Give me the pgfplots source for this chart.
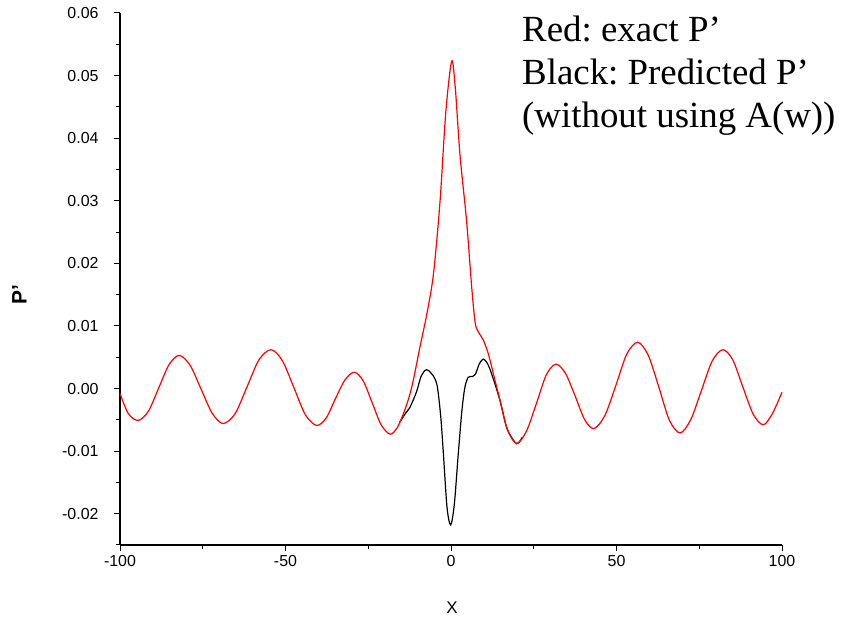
\documentclass[border=0pt]{standalone}
\usepackage{pgfplots}
\pgfplotsset{compat=1.18}
\usepackage{fontspec}
\setmainfont{Liberation Sans}
\newfontfamily\seriffont{Liberation Serif}
\begin{document}
\frenchspacing
\begin{tikzpicture}[x=1bp,y=1bp]
\path (0,0) rectangle (844,628);
\begin{axis}[
  at={(120bp,83bp)}, anchor=south west,
  scale only axis, width=662bp, height=532bp,
  xmin=-100, xmax=100, ymin=-0.025, ymax=0.06,
  scaled y ticks=false, scaled x ticks=false,
  axis x line*=bottom, axis y line*=left,
  axis line style={-, line width=1.2bp},
  every outer x axis line/.append style={-},
  every outer y axis line/.append style={-},
  tick align=outside,
  major tick length=6bp, minor tick length=4bp,
  tick style={line width=1bp, black},
  xtick={-100,-50,0,50,100},
  xticklabels={-100,-50,0,50,100},
  minor xtick={-75,-25,25,75},
  ytick={-0.02,-0.01,0,0.01,0.02,0.03,0.04,0.05,0.06},
  yticklabels={-0.02,-0.01,0.00,0.01,0.02,0.03,0.04,0.05,0.06},
  minor ytick={-0.025,-0.015,-0.005,0.005,0.015,0.025,0.035,0.045,0.055},
  ticklabel style={font=\fontsize{16}{18}\selectfont},
  yticklabel style={xshift=-12bp},
  xticklabel style={yshift=-1bp},
  xlabel={X}, ylabel={\bfseries P'},
  every axis x label/.style={at={(axis description cs:0.5015,-0.118)}, anchor=center, font=\fontsize{17}{19}\selectfont},
  every axis y label/.style={at={(axis description cs:-0.152,0.47)}, anchor=center, rotate=90, font=\fontsize{21}{23}\selectfont},
  clip=false,
]
\addplot[black, line width=1.2bp, smooth, tension=0.5] coordinates {
(-15.5,-0.0054) (-13.8,-0.0040) (-12.4,-0.0030) (-10.4,-0.0005)
(-9.0,0.0020) (-7.4,0.0030) (-5.6,0.0022) (-4.2,0.0005) (-3.1,-0.0045)
(-2.3,-0.0104) (-1.2,-0.0190) (-0.1,-0.0218) (1.0,-0.0185) (2.2,-0.0104)
(3.3,-0.0035) (4.2,0.0002) (5.2,0.0018) (6.5,0.0019) (7.4,0.0023)
(8.6,0.0040) (9.8,0.0047) (11.0,0.0040) (12.3,0.0023) (14.8,-0.0019)
(17.0,-0.0065) (19.8,-0.0088) (21.5,-0.0078)
};
\addplot[red, line width=1.2bp, smooth, tension=0.5] coordinates {
(-100,-0.0008) (-97.5,-0.0040) (-94.5,-0.0051) (-91.4,-0.0036) (-88.3,0.0001)
(-85.2,0.0038) (-82.1,0.0053) (-78.8,0.0037) (-75.5,-0.0001) (-72.1,-0.0040)
(-68.8,-0.0056) (-65.2,-0.0040) (-61.6,0.0003) (-58.0,0.0046) (-54.4,0.0062)
(-51.0,0.0045) (-47.5,0.0002) (-44.0,-0.0042) (-40.6,-0.0059) (-37.7,-0.0047)
(-34.9,-0.0016) (-32.0,0.0014) (-29.2,0.0026) (-26.5,0.0012) (-23.8,-0.0023)
(-21.1,-0.0058) (-18.4,-0.0073) (-16.3,-0.0063) (-14.5,-0.0042) (-12.8,-0.0016)
(-11.4,0.0013) (-9.4,0.0066) (-7.3,0.0119) (-5.3,0.0183) (-3.3,0.0300)
(-1.6,0.0440) (0.2,0.0523) (1.3,0.0480) (2.7,0.0374) (4.7,0.0268)
(6.25,0.0162) (7.3,0.0105) (8.3,0.0090) (9.8,0.0077) (11.3,0.0055)
(12.5,0.0030) (14.8,-0.0019) (17.0,-0.0065) (19.8,-0.0088) (22.8,-0.0068)
(25.8,-0.0024) (28.8,0.0022) (31.7,0.0039) (34.6,0.0024) (37.5,-0.0012)
(40.4,-0.0050) (43.2,-0.0064) (46.5,-0.0043) (49.8,0.0005) (53.1,0.0055)
(56.4,0.0074) (59.6,0.0053) (62.8,0.0002) (66.0,-0.0051) (69.2,-0.0071)
(72.4,-0.0050) (75.6,-0.0004) (78.9,0.0044) (82.1,0.0062) (85.1,0.0046)
(88.2,0.0002) (91.3,-0.0041) (94.3,-0.0058) (97.0,-0.0041) (100,-0.0006)
};
\end{axis}
\node[anchor=base west, inner sep=0, font=\seriffont\fontsize{37}{44}\selectfont] at (522,586) {Red: exact P’};
\node[anchor=base west, inner sep=0, font=\seriffont\fontsize{37}{44}\selectfont] at (522,543) {Black: Predicted P’};
\node[anchor=base west, inner sep=0, font=\seriffont\fontsize{37}{44}\selectfont] at (522,500) {(without using A(w))};
\end{tikzpicture}
\end{document}
